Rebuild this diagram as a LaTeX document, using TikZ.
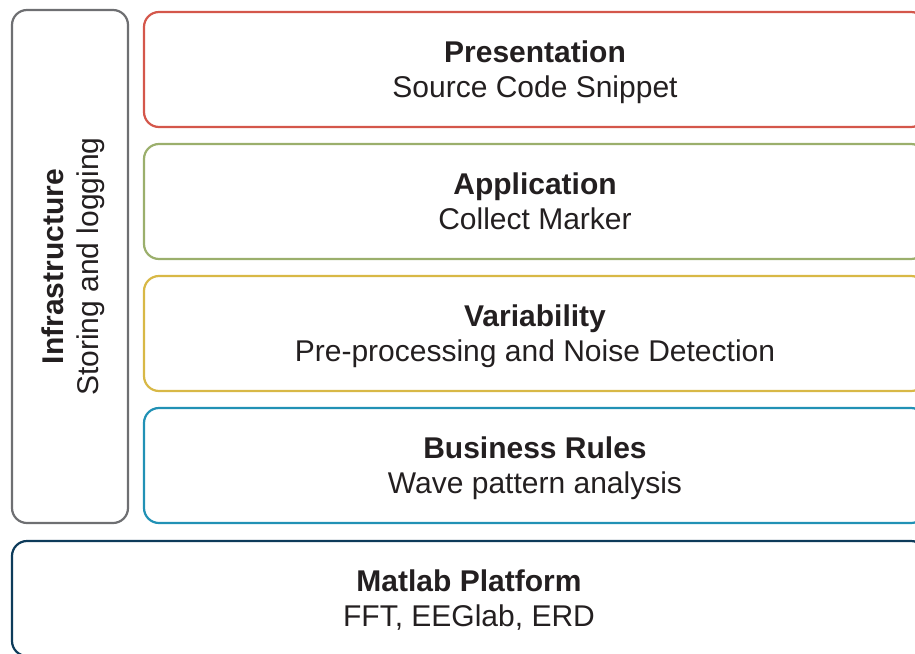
\documentclass[tikz,border=0pt]{standalone}
\usepackage{fontspec}
\setmainfont{Liberation Sans}
\usetikzlibrary{positioning}

\definecolor{infragray}{HTML}{6E6F72}
\definecolor{presred}{HTML}{D4574B}
\definecolor{appgreen}{HTML}{9BAF6C}
\definecolor{varyellow}{HTML}{D8B846}
\definecolor{rulesblue}{HTML}{2191B5}
\definecolor{platformblue}{HTML}{0D3B5A}
\definecolor{textdark}{HTML}{231F20}

\begin{document}
\begin{tikzpicture}[
    x=1pt, y=-1pt,
    node distance=14.8pt,
    layer/.style={rectangle, draw, rounded corners=15pt, line width=2.2pt, minimum width=782pt, minimum height=115pt, inner sep=0pt, align=center, text depth=0pt, text=textdark, font=\fontsize{30}{35}\selectfont},
    base/.style={layer, minimum width=914pt}
]
    \useasboundingbox (0,0) rectangle (915,653);

    % stacked layers on the right
    \node (pres) [layer, draw=presred] at (535,69.5) {\textbf{Presentation}\\Source Code Snippet};
    \node (app) [layer, draw=appgreen, below=of pres] {\textbf{Application}\\Collect Marker};
    \node (var) [layer, draw=varyellow, below=of app] {\textbf{Variability}\\Pre-processing and Noise Detection};
    \node (rules) [layer, draw=rulesblue, below=of var] {\textbf{Business Rules}\\Wave pattern analysis};

    % side column and platform
    \node (infra) [layer, draw=infragray, rotate=90, minimum width=513pt, minimum height=116pt] at (70,266.5) {\textbf{Infrastructure}\\Storing and logging};
    \node (platform) [base, draw=platformblue] at (469,598.5) {\textbf{Matlab Platform}\\FFT, EEGlab, ERD};
\end{tikzpicture}
\end{document}
